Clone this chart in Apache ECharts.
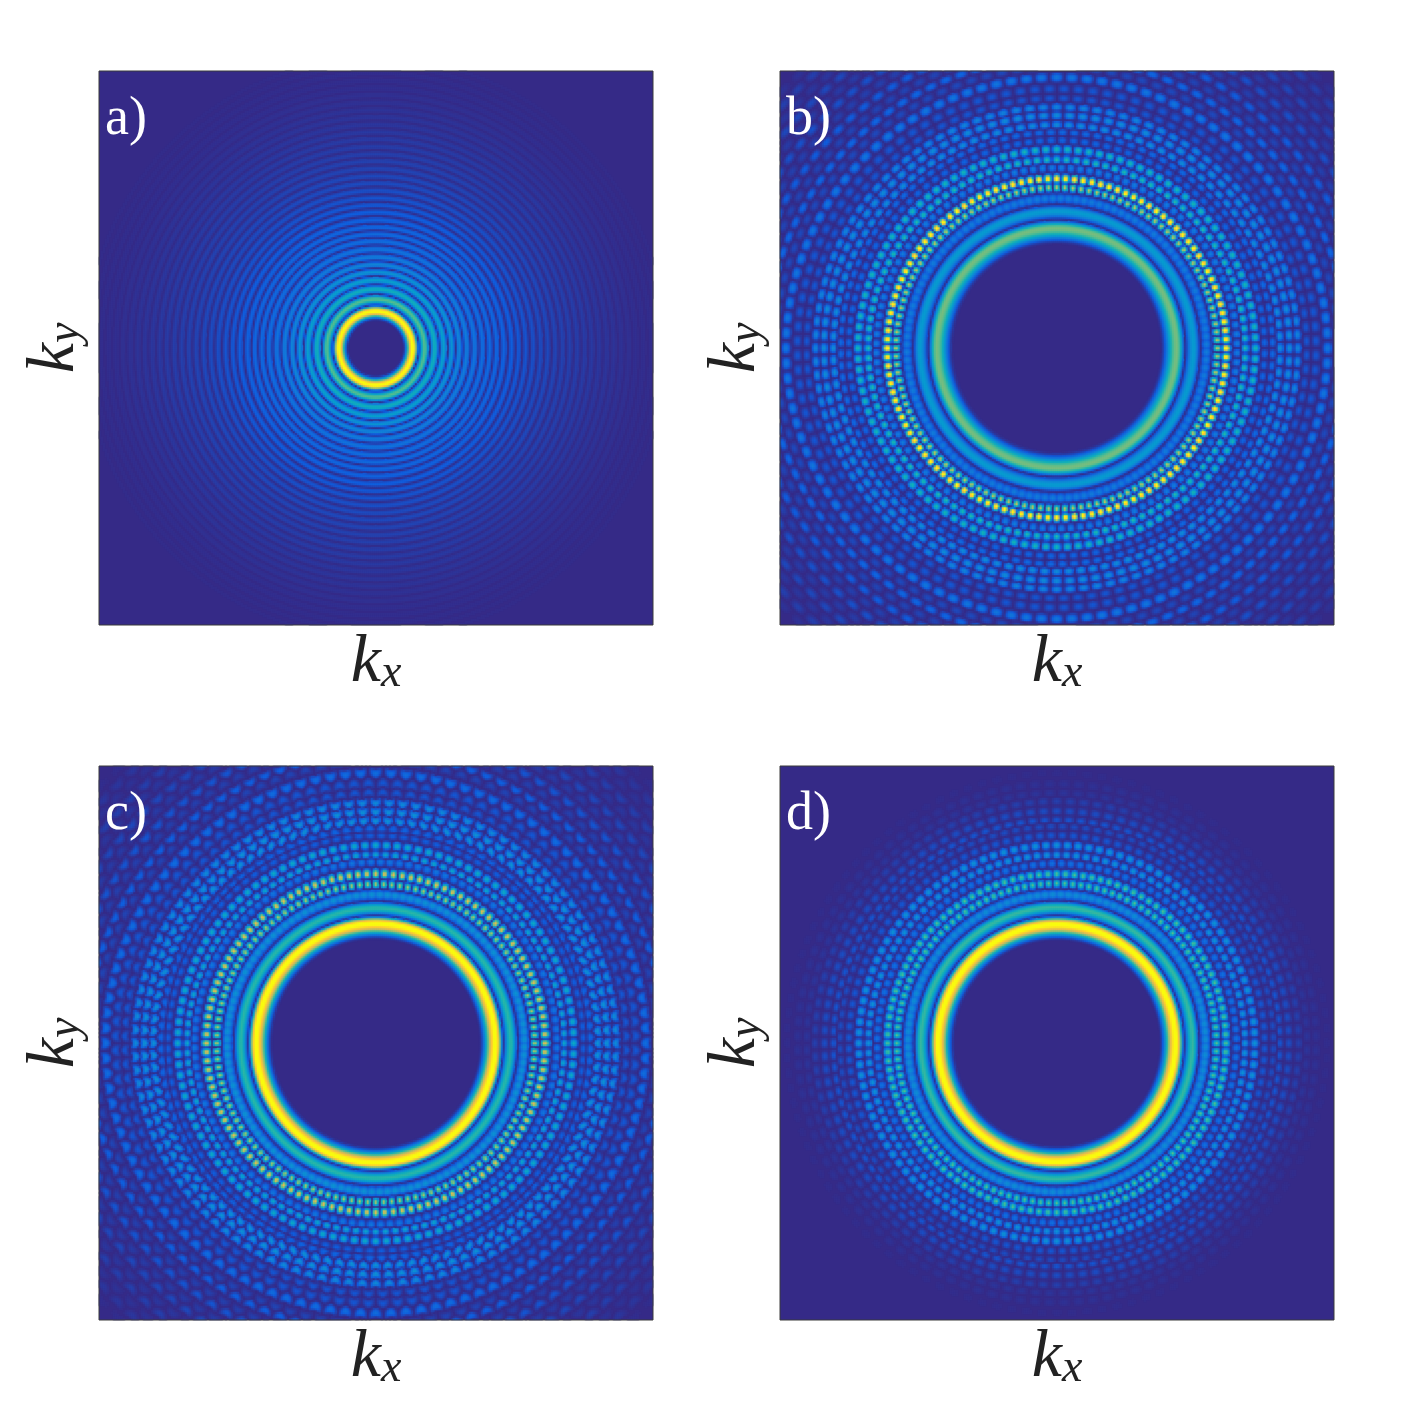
<!DOCTYPE html>
<html><head><meta charset="utf-8">
<style>html,body{margin:0;padding:0;background:#fff}#c{width:1419px;height:1419px}</style>
<script src="https://cdn.jsdelivr.net/npm/echarts@6/dist/echarts.min.js"></script>
</head><body><div id="c"></div>
<script>
var panelNames = ['a)','b)','c)','d)'];
var colorScale = ['#352A87','#0F5CDD','#127DD8','#079CCF','#15B1B4','#59BD8C','#A5BE6B','#E1B952','#FDC834','#F9FB0E'];

var aRadius = [37,49,59,68,76,83.5,91,99,107,114,121,128,136,143,150,157.5,165,172,179.5,187,194,201.5,209,216,223.5,231,238,245.5,253,260,267.5,275,282,289.5,297];
var aPeak   = [1.02,.55,.42,.35,.3,.25,.22,.19,.17,.16,.15,.135,.12,.105,.095,.085,.075,.07,.06,.055,.05,.045,.04,.035,.03,.026,.022,.018,.015,.012,.01,.008,.006,.005,.004];

var bRadius = [120,137,150,161,169,181,188,199,208,216,223,233,241,250,259,271,281,290,299,309,318,328,337,347,356,366,376];
var bPeak   = [.6,.33,.22,.72,1.08,.22,.48,.46,.14,.16,.28,.28,.25,.1,.1,.2,.07,.15,.06,.12,.05,.09,.04,.07,.03,.05,.02];
var bDepth  = [0,0,.4,1,1,1,1,1,1,1,1,1,1,1,1,1,1,1,1,1,1,1,1,1,1,1,1];
var bLobes  = [120,120,120,124,120,120,120,116,116,116,116,112,112,112,112,112,112,112,112,112,112,112,112,112,112,112,112];
var bShift  = [0,0,1,0,0,1,0,0,1,1,0,0,0,1,1,0,1,0,1,0,1,0,1,0,1,0,1];

var cRadius = [120,135,149,159,169,182,188,198,208,214,223,232,241,250,259,271,281,290,299,309,318,328,337,347,356,366,376];
var cPeak   = [1.03,.48,.3,.68,.8,.2,.38,.4,.12,.14,.3,.3,.27,.1,.1,.17,.06,.13,.05,.1,.04,.07,.03,.05,.02,.03,.01];
var cDepth  = [0,0,.3,1,1,.8,1,1,.8,.8,1,1,1,.9,.9,1,1,1,1,1,1,1,1,1,1,1,1];
var cLobes  = [120,120,120,124,120,120,120,116,116,116,116,112,112,112,112,112,112,112,112,112,112,112,112,112,112,112,112];
var cShift  = [0,0,1,0,0,1,0,0,1,1,0,0,0,1,1,0,1,0,1,0,1,0,1,0,1,0,1];

var dRadius = [119,136,149,160,169,180,188,198,208,217,223,232,242,250,259,270];
var dPeak   = [1.03,.5,.28,.55,.55,.18,.3,.3,.1,.08,.1,.08,.05,.025,.018,.008];
var dDepth  = [0,0,.3,.9,.9,.9,1,1,1,1,1,1,1,1,1,1];
var dLobes  = [120,120,120,124,120,120,120,116,116,116,116,112,112,112,112,112];
var dShift  = [0,0,1,0,0,1,0,0,1,1,0,0,0,1,1,0];

var aInner = 10, bInner = 17, cInner = 17, dInner = 17;
var kStep = 2, kMax = 276;

var kValues = [];
for (var q = -kMax; q <= kMax; q += kStep) kValues.push(q);

function cellValue(kx, ky, t) {
  var r = Math.sqrt(kx*kx + ky*ky), n = t.radius.length;
  var th = Math.atan2(kx, ky);
  if (t.wobble && r > 215) r += t.wobble * Math.cos(112 * th);
  var i = 0;
  while (i < n - 1 && Math.abs(t.radius[i+1] - r) < Math.abs(t.radius[i] - r)) i++;
  var d = r - t.radius[i], h;
  if (d < 0) h = i === 0 ? t.inner : (t.radius[i] - t.radius[i-1]) / 2;
  else h = i === n - 1 ? 5 : (t.radius[i+1] - t.radius[i]) / 2;
  if (Math.abs(d) >= h) return 0;
  var c = Math.cos(Math.PI * d / (2 * h));
  var v = t.peak[i] * Math.pow(c, (i === 0 && d < 0) ? 2.2 : 1.2);
  if (t.depth) {
    var a = Math.abs(Math.cos(t.lobes[i] * th / 2 + t.shift[i] * Math.PI / 2));
    v *= 1 - t.depth[i] + t.depth[i] * Math.pow(a, 1.2);
  }
  return v;
}
function cells(t) {
  var out = [];
  for (var i = 0; i < kValues.length; i++) for (var j = 0; j < kValues.length; j++) {
    var v = cellValue(kValues[i], kValues[j], t);
    if (v > 0.004) out.push([i, j, v]);
  }
  return out;
}
var tables = [
  {radius:aRadius, peak:aPeak, inner:aInner},
  {radius:bRadius, peak:bPeak, depth:bDepth, lobes:bLobes, shift:bShift, inner:bInner},
  {radius:cRadius, peak:cPeak, depth:cDepth, lobes:cLobes, shift:cShift, inner:cInner, wobble:1.2},
  {radius:dRadius, peak:dPeak, depth:dDepth, lobes:dLobes, shift:dShift, inner:dInner}
];
var lefts = [99,780,99,780], tops = [71,71,766,766];
var rich = {
  k:{fontFamily:'Liberation Serif',fontStyle:'italic',fontSize:68,color:'#222'},
  s:{fontFamily:'Liberation Serif',fontStyle:'italic',fontSize:46,color:'#222',padding:[22,0,0,0]}
};
var grids=[],xs=[],ys=[],series=[],titles=[],frames=[];
tables.forEach(function(t,p){
  grids.push({left:lefts[p],top:tops[p],width:554,height:554,show:true,backgroundColor:'#352A87',borderWidth:0,outerBoundsMode:'none'});
  xs.push({type:'category',gridIndex:p,data:kValues,axisLine:{show:false},axisTick:{show:false},axisLabel:{show:false},splitLine:{show:false},
    name:'{k|k}{s|x}',nameLocation:'middle',nameGap:4,nameTextStyle:{rich:rich}});
  ys.push({type:'category',gridIndex:p,data:kValues,axisLine:{show:false},axisTick:{show:false},axisLabel:{show:false},splitLine:{show:false},
    name:'{k|k}{s|y}',nameLocation:'middle',nameGap:10,nameRotate:90,nameTextStyle:{rich:rich}});
  series.push({type:'heatmap',xAxisIndex:p,yAxisIndex:p,data:cells(t),progressive:0,animation:false,silent:true,itemStyle:{borderWidth:0},emphasis:{disabled:true}});
  titles.push({text:panelNames[p],left:lefts[p]+6,top:tops[p]+22,padding:0,textStyle:{fontFamily:'Liberation Serif',fontWeight:'normal',fontSize:54,color:'#fff'},z:10});
  frames.push({type:'rect',silent:true,z:100,shape:{x:lefts[p],y:tops[p],width:554,height:554},style:{fill:'transparent',stroke:'#3a3a3a',lineWidth:1}});
});
var chart=echarts.init(document.getElementById('c'),null,{renderer:'canvas'});
chart.setOption({animation:false,backgroundColor:'#fff',title:titles,tooltip:{show:false},grid:grids,xAxis:xs,yAxis:ys,graphic:frames,
  visualMap:{show:false,min:0,max:1,dimension:2,seriesIndex:[0,1,2,3],inRange:{color:colorScale}},series:series});
</script></body></html>
